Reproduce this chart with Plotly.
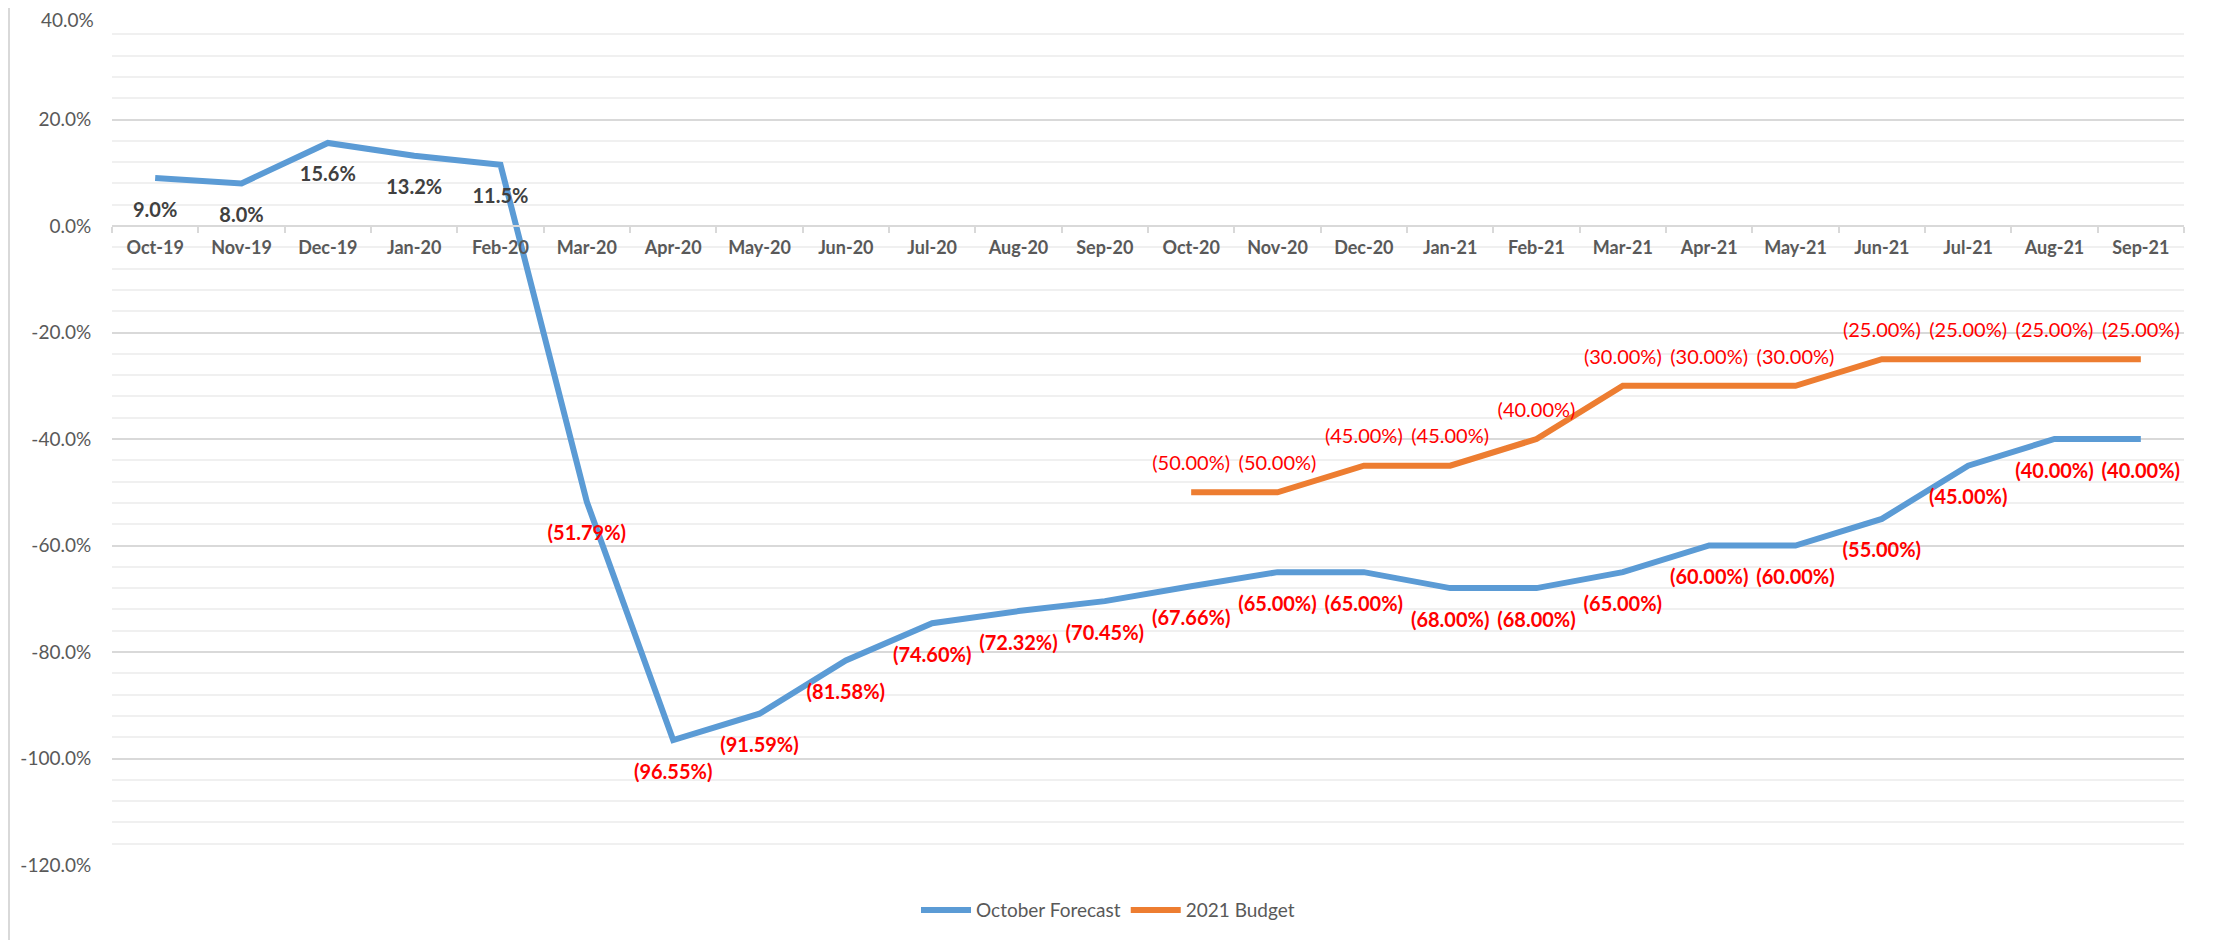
import plotly.graph_objects as go

months = ["Oct-19", "Nov-19", "Dec-19", "Jan-20", "Feb-20", "Mar-20", "Apr-20", "May-20",
          "Jun-20", "Jul-20", "Aug-20", "Sep-20", "Oct-20", "Nov-20", "Dec-20", "Jan-21",
          "Feb-21", "Mar-21", "Apr-21", "May-21", "Jun-21", "Jul-21", "Aug-21", "Sep-21"]
forecast = [9.0, 8.0, 15.6, 13.2, 11.5, -51.79, -96.55, -91.59, -81.58, -74.60, -72.32, -70.45,
            -67.66, -65.00, -65.00, -68.00, -68.00, -65.00, -60.00, -60.00, -55.00, -45.00, -40.00, -40.00]
budget_months = months[12:]
budget = [-50.0, -50.0, -45.0, -45.0, -40.0, -30.0, -30.0, -30.0, -25.0, -25.0, -25.0, -25.0]
y_ticks = [40, 20, 0, -20, -40, -60, -80, -100, -120]


def fmt(v):
    return f"{v:.1f}%" if v >= 0 else f"({abs(v):.2f}%)"


FONT = "Lato, 'Open Sans', sans-serif"
BLUE = "#5B9BD5"
ORANGE = "#ED7D31"
# page body has an 8px margin; figure is sized/offset to compensate
W, H = 2206, 932
L, R, T, B = 104, 30, 5, 75
PW = W - L - R
y_top = max(y_ticks)

fig = go.Figure()
fig.add_trace(go.Scatter(
    x=months, y=forecast, name="October Forecast", mode="lines+markers+text",
    line=dict(color=BLUE, width=6),
    marker=dict(size=36, color="rgba(0,0,0,0)"),
    text=[fmt(v) for v in forecast], textposition="bottom center",
    textfont=dict(family=FONT, size=20, weight="bold",
                  color=["#404040" if v >= 0 else "#FF0000" for v in forecast]),
    hoverinfo="skip",
))
fig.add_trace(go.Scatter(
    x=budget_months, y=budget, name="2021 Budget", mode="lines+markers+text",
    line=dict(color=ORANGE, width=6),
    marker=dict(size=26, color="rgba(0,0,0,0)"),
    text=[fmt(v) for v in budget], textposition="top center",
    textfont=dict(family=FONT, size=20, color="#FF0000"),
    hoverinfo="skip",
))

fig.update_layout(
    width=W, height=H,
    margin=dict(l=L, r=R, t=T, b=B),
    paper_bgcolor="white", plot_bgcolor="white",
    font=dict(family=FONT, color="#595959"),
    showlegend=True,
    legend=dict(orientation="h", x=(1100 - L) / PW, xanchor="center", y=-0.053, yanchor="middle",
                font=dict(size=19, color="#595959"), itemwidth=50),
    xaxis=dict(
        type="category", categoryarray=months, categoryorder="array",
        anchor="free", position=0.75, automargin=False,
        showline=True, linecolor="#D9D9D9", linewidth=2,
        ticks="outside", tickson="boundaries", ticklen=6, tickcolor="#D9D9D9", tickwidth=2,
        ticklabelstandoff=5,
        tickfont=dict(family=FONT, size=18, color="#595959", weight="bold"),
        showgrid=False, range=[-0.5, 23.5], fixedrange=True,
    ),
    yaxis=dict(
        range=[-120, 40], tickvals=y_ticks,
        ticktext=["" if v == y_top else f"{v:.1f}%" for v in y_ticks],
        tickfont=dict(family=FONT, size=19, color="#595959"),
        showgrid=True, gridcolor="#D9D9D9", gridwidth=2, automargin=False,
        zeroline=False, showline=False, ticks="outside", ticklen=16, tickcolor="rgba(0,0,0,0)",
        minor=dict(dtick=4, tick0=0, showgrid=True, gridcolor="#F0F0F0", gridwidth=2, ticks=""),
        fixedrange=True,
    ),
    annotations=[
        dict(text=f"{y_top:.1f}%", xref="paper", yref="y", x=0, y=y_top, xanchor="right",
             yanchor="top", xshift=-16, yshift=7, showarrow=False,
             font=dict(family=FONT, size=19, color="#595959")),
    ],
    shapes=[
        dict(type="line", xref="paper", yref="paper", x0=(1 - L) / PW, x1=(1 - L) / PW, y0=-0.2, y1=1.1,
             line=dict(color="#D9D9D9", width=2)),
        dict(type="line", xref="paper", yref="paper", x0=(2201 - L) / PW, x1=(2201 - L) / PW, y0=-0.2, y1=1.1,
             line=dict(color="#D9D9D9", width=2)),
    ],
)

fig.write_html("out.html")
